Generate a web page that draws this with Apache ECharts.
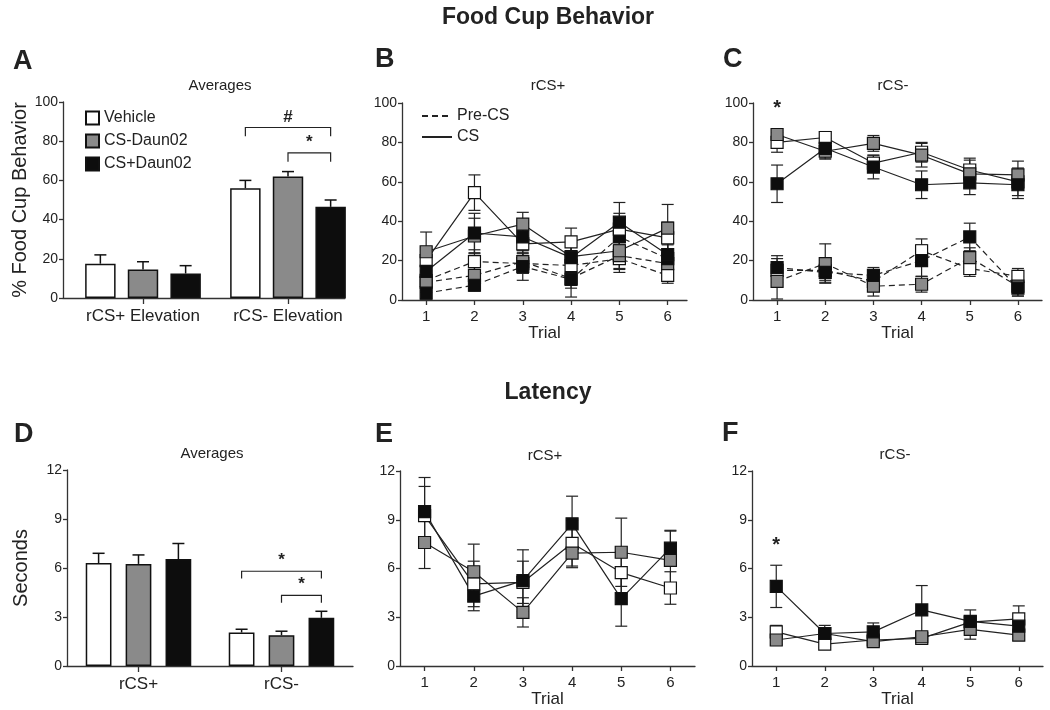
<!DOCTYPE html>
<html>
<head>
<meta charset="utf-8">
<title>Food Cup Behavior / Latency</title>
<script src="https://cdn.jsdelivr.net/npm/echarts@6/dist/echarts.min.js"></script>
<style>
html, body { margin: 0; padding: 0; background: #fff; }
#chart { width: 1050px; height: 710px; }
</style>
</head>
<body>
<div id="chart"></div>
<script>
// groups and trials
var groups = ['Vehicle', 'CS-Daun02', 'CS+Daun02'];
var trials = [1, 2, 3, 4, 5, 6];

// A - food cup averages
var avgFoodCats = ['rCS+ Elevation', 'rCS- Elevation'];
var avgFoodVehicle = [17.5, 56];
var avgFoodCsMinus = [14.5, 62];
var avgFoodCsPlus = [12.5, 46.5];
var avgFoodVehicleErr = [4.5, 4];
var avgFoodCsMinusErr = [4, 2.5];
var avgFoodCsPlusErr = [4, 3.5];

// B - rCS+ food cup by trial
var plusCsVehicle = [20, 54.5, 28.5, 29.5, 36, 31.5];
var plusCsCsMinus = [24.5, 32.5, 38.5, 22, 25, 36.5];
var plusCsCsPlus = [14.5, 34, 32, 21.5, 39.5, 23];
var plusPreVehicle = [10, 19.5, 18.5, 17.5, 21, 12.5];
var plusPreCsMinus = [9, 12.5, 19.5, 11, 22.5, 18.5];
var plusPreCsPlus = [3.5, 7.5, 17, 10.5, 32, 21];
var plusCsVehicleErr = [7, 9, 7, 7, 8, 8];
var plusCsCsMinusErr = [10, 9, 6, 7, 9, 12];
var plusCsCsPlusErr = [8, 10, 7, 8, 10, 8];
var plusPreVehicleErr = [5, 6, 5, 6, 7, 4];
var plusPreCsMinusErr = [5, 5, 6, 5, 7, 5];
var plusPreCsPlusErr = [3, 3, 7, 9, 6, 7];

// C - rCS- food cup by trial
var minusCsVehicle = [80, 82.5, 69.5, 75, 66, 60];
var minusCsCsMinus = [84, 75.5, 79.5, 73.5, 64, 63.5];
var minusCsCsPlus = [59, 77, 67.5, 58.5, 59.5, 58.5];
var minusPreVehicle = [15, 15, 9.5, 25, 16, 12];
var minusPreCsMinus = [9.5, 18.5, 7, 8, 21.5, 7];
var minusPreCsPlus = [16.5, 14, 12.5, 20, 32, 6];
var minusCsVehicleErr = [5, 3, 4, 5, 6, 7];
var minusCsCsMinusErr = [3, 4, 4, 6, 7, 7];
var minusCsCsPlusErr = [9.5, 5, 6, 7, 6, 7];
var minusPreVehicleErr = [6, 5, 5, 6, 4, 4];
var minusPreCsMinusErr = [9, 10, 5, 4, 5, 5];
var minusPreCsPlusErr = [6, 5, 4, 8, 7, 4];
var minusStar = [[1, 97]];

// D - latency averages
var avgLatCats = ['rCS+', 'rCS-'];
var avgLatVehicle = [6.3, 2.05];
var avgLatCsMinus = [6.25, 1.88];
var avgLatCsPlus = [6.55, 2.95];
var avgLatVehicleErr = [0.6, 0.2];
var avgLatCsMinusErr = [0.55, 0.25];
var avgLatCsPlusErr = [0.95, 0.4];

// E - rCS+ latency by trial
var latPlusVehicle = [9.25, 5.05, 5.15, 7.55, 5.75, 4.8];
var latPlusCsMinus = [7.6, 5.8, 3.3, 6.95, 7.0, 6.5];
var latPlusCsPlus = [9.5, 4.3, 5.25, 8.75, 4.15, 7.25];
var latPlusVehicleErr = [1.8, 1.4, 1.3, 1.4, 1.3, 1.0];
var latPlusCsMinusErr = [1.6, 1.7, 0.9, 0.9, 2.1, 1.8];
var latPlusCsPlusErr = [2.1, 0.9, 1.9, 1.7, 1.7, 1.1];

// F - rCS- latency by trial
var latMinusVehicle = [2.1, 1.35, 1.6, 1.7, 2.7, 2.9];
var latMinusCsMinus = [1.6, 2.0, 1.5, 1.8, 2.25, 1.9];
var latMinusCsPlus = [4.9, 2.0, 2.1, 3.45, 2.75, 2.45];
var latMinusVehicleErr = [0.4, 0.2, 0.2, 0.2, 0.4, 0.8];
var latMinusCsMinusErr = [0.3, 0.3, 0.2, 0.2, 0.6, 0.3];
var latMinusCsPlusErr = [1.3, 0.5, 0.55, 1.5, 0.7, 0.6];
var latMinusStar = [[1, 7.4]];

// significance brackets: [category, y, fromBar, toBar]
var foodBrackets = [[1, 87, 0, 2], [1, 74, 1, 2]];
var foodBracketText = ['#', '*'];
var latBrackets = [[1, 5.8, 0, 2], [1, 4.33, 1, 2]];
var latBracketText = ['*', '*'];

var FONT = '"Liberation Sans", Arial, sans-serif';
var INK = '#222';
var fills = ['#ffffff', '#8a8a8a', '#0d0d0d'];

var chart = echarts.init(document.getElementById('chart'));

function yAxisCfg(gi, max, interval, name, gap) {
    return {
        type: 'value', gridIndex: gi, min: 0, max: max, interval: interval,
        name: name, nameLocation: 'middle', nameGap: gap,
        nameTextStyle: {fontSize: 20, color: INK, fontFamily: FONT},
        axisLine: {show: true, lineStyle: {color: '#333', width: 1.3}},
        axisTick: {show: true, length: 4, lineStyle: {color: '#333', width: 1.3}},
        axisLabel: {color: INK, fontSize: 14, margin: 5, fontFamily: FONT},
        splitLine: {show: false}
    };
}

function catAxisCfg(gi, cats, showLine) {
    return {
        type: 'category', gridIndex: gi, data: cats,
        axisLine: {show: showLine, lineStyle: {color: '#333', width: 1.3}},
        axisTick: {show: true, alignWithLabel: true, length: 6, lineStyle: {color: '#333', width: 1.3}},
        axisLabel: {color: INK, fontSize: 17, margin: 10, interval: 0, fontFamily: FONT}
    };
}

function trialAxisCfg(gi, max) {
    return {
        type: 'value', gridIndex: gi, min: 0.5, max: max,
        name: 'Trial', nameLocation: 'middle', nameGap: 21,
        nameTextStyle: {fontSize: 17, color: INK, fontFamily: FONT},
        axisLine: {onZero: false, lineStyle: {color: '#333', width: 1.3}},
        axisTick: {length: 5, customValues: trials, lineStyle: {color: '#333', width: 1.3}},
        axisLabel: {color: INK, fontSize: 15, margin: 9, customValues: trials, fontFamily: FONT},
        splitLine: {show: false}
    };
}

function barSeries(name, gi, vals, fill, bw, bg) {
    return {
        name: name, type: 'bar', xAxisIndex: gi, yAxisIndex: gi, data: vals,
        barWidth: bw + '%', barGap: bg + '%',
        itemStyle: {color: fill, borderColor: '#111', borderWidth: 1.5},
        z: 2
    };
}

// upward error bars on the grouped bars
function barErrSeries(gi, idx, vals, errs, bw, bg) {
    return {
        type: 'custom', xAxisIndex: gi, yAxisIndex: gi, silent: true, z: 1,
        data: vals.map(function (v, i) { return [i, v, errs[i]]; }),
        renderItem: function (params, api) {
            var band = api.size([1, 0])[0];
            var w = band * bw / 100;
            var off = (idx - 1) * w * (1 + bg / 100);
            var base = api.coord([api.value(0), api.value(1)]);
            var top = api.coord([api.value(0), api.value(1) + api.value(2)]);
            var x = base[0] + off;
            var st = {stroke: '#111', lineWidth: 1.5};
            return {type: 'group', children: [
                {type: 'line', shape: {x1: x, y1: base[1], x2: x, y2: top[1]}, style: st},
                {type: 'line', shape: {x1: x - 6, y1: top[1], x2: x + 6, y2: top[1]}, style: st}
            ]};
        }
    };
}

function bracketSeries(gi, list, texts, bw, bg, drop) {
    return {
        type: 'custom', xAxisIndex: gi, yAxisIndex: gi, silent: true, z: 4,
        data: list,
        renderItem: function (params, api) {
            var band = api.size([1, 0])[0];
            var w = band * bw / 100;
            var step = w * (1 + bg / 100);
            var c = api.coord([api.value(0), api.value(1)]);
            var x1 = c[0] + (api.value(2) - 1) * step;
            var x2 = c[0] + (api.value(3) - 1) * step;
            var d = api.size([0, drop])[1];
            return {type: 'group', children: [
                {type: 'polyline', shape: {points: [[x1, c[1] + d], [x1, c[1]], [x2, c[1]], [x2, c[1] + d]]},
                    style: {stroke: INK, lineWidth: 1.2, fill: null}},
                {type: 'text', x: (x1 + x2) / 2, y: c[1] - 2,
                    style: {text: texts[params.dataIndex], font: 'bold 17px ' + FONT, fill: INK,
                        align: 'center', verticalAlign: 'bottom', textAlign: 'center', textVerticalAlign: 'bottom'}}
            ]};
        }
    };
}

function lineSeries(name, gi, vals, fill, dashed) {
    return {
        name: name, type: 'line', xAxisIndex: gi, yAxisIndex: gi,
        data: vals.map(function (v, i) { return [trials[i], v]; }),
        symbol: 'rect', symbolSize: 12,
        lineStyle: {color: INK, width: 1.2, type: dashed ? [6, 4] : 'solid'},
        itemStyle: {color: fill, borderColor: '#111', borderWidth: 1.2},
        z: 3
    };
}

// symmetric error bars for the trial plots
function lineErrSeries(gi, vals, errs) {
    return {
        type: 'custom', xAxisIndex: gi, yAxisIndex: gi, silent: true, z: 2,
        data: vals.map(function (v, i) { return [trials[i], v, errs[i]]; }),
        renderItem: function (params, api) {
            var x = api.value(0), y = api.value(1), e = api.value(2);
            var top = api.coord([x, y + e]);
            var bot = api.coord([x, Math.max(0, y - e)]);
            var st = {stroke: INK, lineWidth: 1.2};
            return {type: 'group', children: [
                {type: 'line', shape: {x1: top[0], y1: top[1], x2: bot[0], y2: bot[1]}, style: st},
                {type: 'line', shape: {x1: top[0] - 6, y1: top[1], x2: top[0] + 6, y2: top[1]}, style: st},
                {type: 'line', shape: {x1: bot[0] - 6, y1: bot[1], x2: bot[0] + 6, y2: bot[1]}, style: st}
            ]};
        }
    };
}

function starSeries(gi, pts) {
    return {
        type: 'custom', xAxisIndex: gi, yAxisIndex: gi, silent: true, z: 4,
        data: pts,
        renderItem: function (params, api) {
            var c = api.coord([api.value(0), api.value(1)]);
            return {type: 'text', x: c[0], y: c[1],
                style: {text: '*', font: 'bold 20px ' + FONT, fill: INK,
                    align: 'center', verticalAlign: 'middle', textAlign: 'center', textVerticalAlign: 'middle'}};
        }
    };
}

function label(text, x, y, size, bold, align) {
    return {type: 'text', x: x, y: y, silent: true,
        style: {text: text, font: (bold ? 'bold ' : '') + size + 'px ' + FONT, fill: INK,
            align: align || 'center', verticalAlign: 'middle',
            textAlign: align || 'center', textVerticalAlign: 'middle'}};
}

var series = [];
// A (bars live in grid 0; grid 6 only carries the visible frame of panel A)
series.push(barSeries('Vehicle', 0, avgFoodVehicle, fills[0], 21, 40));
series.push(barSeries('CS-Daun02', 0, avgFoodCsMinus, fills[1], 21, 40));
series.push(barSeries('CS+Daun02', 0, avgFoodCsPlus, fills[2], 21, 40));
series.push(barErrSeries(0, 0, avgFoodVehicle, avgFoodVehicleErr, 21, 40));
series.push(barErrSeries(0, 1, avgFoodCsMinus, avgFoodCsMinusErr, 21, 40));
series.push(barErrSeries(0, 2, avgFoodCsPlus, avgFoodCsPlusErr, 21, 40));
series.push(bracketSeries(0, foodBrackets, foodBracketText, 21, 40, 4.5));
// B
series.push(lineErrSeries(1, plusPreVehicle, plusPreVehicleErr));
series.push(lineErrSeries(1, plusPreCsMinus, plusPreCsMinusErr));
series.push(lineErrSeries(1, plusPreCsPlus, plusPreCsPlusErr));
series.push(lineErrSeries(1, plusCsVehicle, plusCsVehicleErr));
series.push(lineErrSeries(1, plusCsCsMinus, plusCsCsMinusErr));
series.push(lineErrSeries(1, plusCsCsPlus, plusCsCsPlusErr));
series.push(lineSeries('B pre vehicle', 1, plusPreVehicle, fills[0], true));
series.push(lineSeries('B pre cs-', 1, plusPreCsMinus, fills[1], true));
series.push(lineSeries('B pre cs+', 1, plusPreCsPlus, fills[2], true));
series.push(lineSeries('B cs vehicle', 1, plusCsVehicle, fills[0], false));
series.push(lineSeries('B cs cs-', 1, plusCsCsMinus, fills[1], false));
series.push(lineSeries('B cs cs+', 1, plusCsCsPlus, fills[2], false));
series.push({name: 'Pre-CS', type: 'line', xAxisIndex: 1, yAxisIndex: 1, data: [], symbol: 'none',
    lineStyle: {color: INK, width: 1.5, type: [6, 4]}, itemStyle: {color: INK}});
series.push({name: 'CS', type: 'line', xAxisIndex: 1, yAxisIndex: 1, data: [], symbol: 'none',
    lineStyle: {color: INK, width: 1.5}, itemStyle: {color: INK}});
// C
series.push(lineErrSeries(2, minusPreVehicle, minusPreVehicleErr));
series.push(lineErrSeries(2, minusPreCsMinus, minusPreCsMinusErr));
series.push(lineErrSeries(2, minusPreCsPlus, minusPreCsPlusErr));
series.push(lineErrSeries(2, minusCsVehicle, minusCsVehicleErr));
series.push(lineErrSeries(2, minusCsCsMinus, minusCsCsMinusErr));
series.push(lineErrSeries(2, minusCsCsPlus, minusCsCsPlusErr));
series.push(lineSeries('C pre vehicle', 2, minusPreVehicle, fills[0], true));
series.push(lineSeries('C pre cs-', 2, minusPreCsMinus, fills[1], true));
series.push(lineSeries('C pre cs+', 2, minusPreCsPlus, fills[2], true));
series.push(lineSeries('C cs vehicle', 2, minusCsVehicle, fills[0], false));
series.push(lineSeries('C cs cs-', 2, minusCsCsMinus, fills[1], false));
series.push(lineSeries('C cs cs+', 2, minusCsCsPlus, fills[2], false));
series.push(starSeries(2, minusStar));
// D
series.push(barSeries('D Vehicle', 3, avgLatVehicle, fills[0], 18, 55));
series.push(barSeries('D CS-Daun02', 3, avgLatCsMinus, fills[1], 18, 55));
series.push(barSeries('D CS+Daun02', 3, avgLatCsPlus, fills[2], 18, 55));
series.push(barErrSeries(3, 0, avgLatVehicle, avgLatVehicleErr, 18, 55));
series.push(barErrSeries(3, 1, avgLatCsMinus, avgLatCsMinusErr, 18, 55));
series.push(barErrSeries(3, 2, avgLatCsPlus, avgLatCsPlusErr, 18, 55));
series.push(bracketSeries(3, latBrackets, latBracketText, 18, 55, 0.45));
// E
series.push(lineErrSeries(4, latPlusVehicle, latPlusVehicleErr));
series.push(lineErrSeries(4, latPlusCsMinus, latPlusCsMinusErr));
series.push(lineErrSeries(4, latPlusCsPlus, latPlusCsPlusErr));
series.push(lineSeries('E vehicle', 4, latPlusVehicle, fills[0], false));
series.push(lineSeries('E cs-', 4, latPlusCsMinus, fills[1], false));
series.push(lineSeries('E cs+', 4, latPlusCsPlus, fills[2], false));
// F
series.push(lineErrSeries(5, latMinusVehicle, latMinusVehicleErr));
series.push(lineErrSeries(5, latMinusCsMinus, latMinusCsMinusErr));
series.push(lineErrSeries(5, latMinusCsPlus, latMinusCsPlusErr));
series.push(lineSeries('F vehicle', 5, latMinusVehicle, fills[0], false));
series.push(lineSeries('F cs-', 5, latMinusCsMinus, fills[1], false));
series.push(lineSeries('F cs+', 5, latMinusCsPlus, fills[2], false));
series.push(starSeries(5, latMinusStar));

var hiddenY = {type: 'value', gridIndex: 0, min: 0, max: 100, show: false};

var option = {
    animation: false,
    backgroundColor: '#fff',
    textStyle: {fontFamily: FONT},
    grid: [
        {left: 70.5, top: 102, width: 290, height: 196},
        {left: 402, top: 103, width: 285, height: 197},
        {left: 753, top: 103, width: 289, height: 197},
        {left: 67, top: 470, width: 286, height: 196},
        {left: 400, top: 471, width: 295, height: 195},
        {left: 752, top: 471, width: 291, height: 195},
        {left: 63, top: 102, width: 282, height: 196}
    ],
    xAxis: [
        catAxisCfg(0, avgFoodCats, false),
        trialAxisCfg(1, 6.4),
        trialAxisCfg(2, 6.5),
        catAxisCfg(3, avgLatCats, true),
        trialAxisCfg(4, 6.5),
        trialAxisCfg(5, 6.5),
        {type: 'value', gridIndex: 6, min: 0, max: 1, axisLine: {onZero: false, lineStyle: {color: '#333', width: 1.3}},
            axisTick: {show: false}, axisLabel: {show: false}, splitLine: {show: false}}
    ],
    yAxis: [
        hiddenY,
        yAxisCfg(1, 100, 20, '', 0),
        yAxisCfg(2, 100, 20, '', 0),
        yAxisCfg(3, 12, 3, 'Seconds', 36),
        yAxisCfg(4, 12, 3, '', 0),
        yAxisCfg(5, 12, 3, '', 0),
        yAxisCfg(6, 100, 20, '% Food Cup Behavior', 33)
    ],
    legend: [
        {data: groups, orient: 'vertical', left: 85, top: 110, padding: 0,
            itemWidth: 13, itemHeight: 13, itemGap: 7, icon: 'rect', selectedMode: false,
            textStyle: {fontSize: 16, color: INK, fontFamily: FONT}},
        {data: ['Pre-CS', 'CS'], orient: 'vertical', left: 421, top: 108, padding: 0,
            itemWidth: 30, itemHeight: 14, itemGap: 5, selectedMode: false,
            itemStyle: {opacity: 0},
            textStyle: {fontSize: 16, color: INK, fontFamily: FONT}}
    ],
    graphic: [
        label('Food Cup Behavior', 548, 18, 23, true),
        label('Latency', 548, 393, 23, true),
        label('A', 13, 62, 27, true, 'left'),
        label('B', 375, 60, 27, true, 'left'),
        label('C', 723, 60, 27, true, 'left'),
        label('D', 14, 435, 27, true, 'left'),
        label('E', 375, 435, 27, true, 'left'),
        label('F', 722, 434, 27, true, 'left'),
        label('Averages', 220, 86, 15),
        label('rCS+', 548, 86, 15),
        label('rCS-', 893, 86, 15),
        label('Averages', 212, 454, 15),
        label('rCS+', 545, 456, 15),
        label('rCS-', 895, 455, 15)
    ],
    series: series
};

chart.setOption(option);
</script>
</body>
</html>
